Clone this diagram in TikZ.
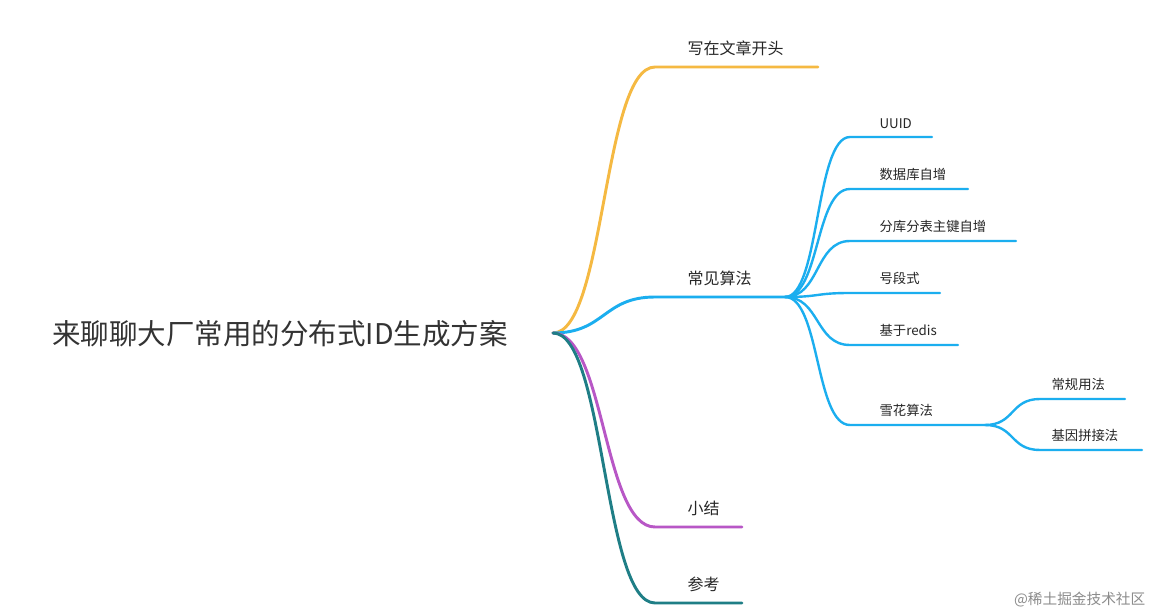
\documentclass[tikz,border=0pt]{standalone}
\usepackage{fontspec}
\setmainfont{Noto Sans CJK SC}
\begin{document}
\begin{tikzpicture}[x=0.75pt,y=-0.75pt,
 lbl/.style={anchor=south west,inner sep=1pt,font=\fontsize{12}{14}\selectfont,text=black!85},
 sub/.style={anchor=south west,inner sep=1pt,font=\fontsize{10}{12}\selectfont,text=black!85},
 br/.style={line width=2.2pt,line cap=round},
 sb/.style={line width=1.8pt,line cap=round}]
\useasboundingbox[fill=white] (0,0) rectangle (1156,616);
\definecolor{org}{HTML}{F5B942}\definecolor{blu}{HTML}{1BAEEF}
\definecolor{pur}{HTML}{B857C6}\definecolor{tea}{HTML}{1F7E86}
\node[anchor=center,font=\fontsize{21.4}{24}\selectfont,text=black!80] (root) at (280,334) {来聊聊大厂常用的分布式ID生成方案};
\coordinate (r) at (553,333);
\coordinate (a1) at (655,67); \coordinate (a2) at (818,67);
\coordinate (b1) at (655,297); \coordinate (b2) at (785,297);
\coordinate (c1) at (655,527); \coordinate (c2) at (742,527);
\coordinate (d1) at (655,603); \coordinate (d2) at (742,603);
\draw[br,org] (r) .. controls (605,333) and (603,67) .. (a1) -- (a2);
\draw[br,blu] (r) .. controls (605,333) and (603,297) .. (b1) -- (b2);
\draw[br,pur] (r) .. controls (605,333) and (603,527) .. (c1) -- (c2);
\draw[br,tea] (r) .. controls (605,333) and (603,603) .. (d1) -- (d2);
\node[lbl] (ta) at (686,57) {写在文章开头};
\node[lbl] (tb) at (686,287) {常见算法};
\node[lbl] (tc) at (686,517) {小结};
\node[lbl] (td) at (686,593) {参考};
\foreach \y/\e/\t in {137/932/UUID,189/968/数据库自增,241/1016/分库分表主键自增,293/940/号段式,345/958/基于redis,425/985/雪花算法}{
 \draw[sb,blu] (b2) .. controls (820,297) and (815,\y) .. (850,\y) -- (\e,\y);
 \node[sub] at (878,\y-7) {\t};
}
\coordinate (s) at (985,425);
\foreach \y/\e/\t in {399/1125/常规用法,450/1142/基因拼接法}{
 \draw[sb,blu] (s) .. controls (1015,425) and (1010,\y) .. (1040,\y) -- (\e,\y);
 \node[sub] at (1050,\y-7) {\t};
}
\node[anchor=east,font=\fontsize{11}{13}\selectfont,text=black!45] (wm) at (1150,600) {@稀土掘金技术社区};
\end{tikzpicture}
\end{document}
